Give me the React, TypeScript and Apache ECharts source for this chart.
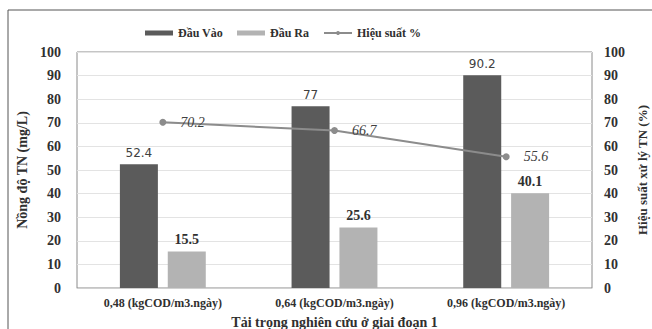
import React, { useEffect, useRef } from "react";
import * as echarts from "echarts";

const categories = [
  "0,48 (kgCOD/m3.ngày)",
  "0,64 (kgCOD/m3.ngày)",
  "0,96 (kgCOD/m3.ngày)",
];
const dauVao = [52.4, 77, 90.2];
const dauRa = [15.5, 25.6, 40.1];
const hieuSuat = [70.2, 66.7, 55.6];
const yTicks = { min: 0, max: 100, interval: 10 };

const SERIF = "Liberation Serif";

export default function App() {
  const ref = useRef<HTMLDivElement>(null);
  useEffect(() => {
    document.body.style.margin = "0";
    const chart = echarts.init(ref.current!, null, { renderer: "svg" });
    chart.setOption({
      animation: false,
      backgroundColor: "#ffffff",
      textStyle: { fontFamily: SERIF },
      graphic: [
        {
          type: "rect",
          shape: { x: 8, y: 10, width: 700, height: 400 },
          style: { fill: "none", stroke: "#555555", lineWidth: 1 },
          silent: true,
          z: -1,
        },
      ],
      legend: {
        top: 22,
        left: 140,
        itemGap: 14,
        itemWidth: 28,
        itemHeight: 5,
        textStyle: { fontFamily: SERIF, fontWeight: "bold", fontSize: 12, color: "#303030" },
        data: [
          { name: "Đầu Vào", icon: "rect" },
          { name: "Đầu Ra", icon: "rect" },
          { name: "Hiệu suất %" },
        ],
      },
      grid: {
        left: 77,
        right: 60,
        top: 52,
        bottom: 41,
        outerBoundsMode: "none",
        containLabel: false,
        show: true,
        borderColor: "#8a8a8a",
        borderWidth: 1,
      },
      xAxis: {
        type: "category",
        data: categories,
        axisTick: { show: false },
        axisLine: { show: true, lineStyle: { color: "#d0d0d0" } },
        axisLabel: {
          fontFamily: SERIF,
          fontWeight: "bold",
          fontSize: 12,
          color: "#303030",
          margin: 9,
        },
        name: "Tải trọng nghiên cứu ở giai đoạn 1",
        nameLocation: "middle",
        nameGap: 27,
        nameTextStyle: { fontFamily: SERIF, fontWeight: "bold", fontSize: 14, color: "#303030" },
      },
      yAxis: [
        {
          type: "value",
          min: yTicks.min,
          max: yTicks.max,
          interval: yTicks.interval,
          axisLine: { show: false },
          axisTick: { show: false },
          splitLine: { lineStyle: { color: "#e3e3e3" } },
          axisLabel: {
            fontFamily: SERIF,
            fontWeight: "bold",
            fontSize: 14,
            color: "#303030",
            margin: 16,
          },
          name: "Nồng độ TN (mg/L)",
          nameLocation: "middle",
          nameGap: 42,
          nameRotate: 90,
          nameTextStyle: { fontFamily: SERIF, fontWeight: "bold", fontSize: 14, color: "#303030" },
        },
        {
          type: "value",
          min: yTicks.min,
          max: yTicks.max,
          interval: yTicks.interval,
          axisLine: { show: false },
          axisTick: { show: false },
          splitLine: { show: false },
          axisLabel: {
            fontFamily: SERIF,
            fontWeight: "bold",
            fontSize: 14,
            color: "#303030",
            margin: 12,
          },
          name: "Hiệu suất xử lý TN (%)",
          nameLocation: "middle",
          nameGap: 38,
          nameRotate: 90,
          nameTextStyle: { fontFamily: SERIF, fontWeight: "bold", fontSize: 13, color: "#303030" },
        },
      ],
      series: [
        {
          name: "Đầu Vào",
          type: "bar",
          data: dauVao,
          barWidth: 38,
          barGap: "26%",
          itemStyle: { color: "#5b5b5b" },
          label: {
            show: true,
            position: "top",
            distance: 5,
            fontFamily: "DejaVu Sans",
            fontSize: 12,
            color: "#404040",
          },
        },
        {
          name: "Đầu Ra",
          type: "bar",
          data: dauRa,
          barWidth: 38,
          itemStyle: { color: "#b3b3b3" },
          label: {
            show: true,
            position: "top",
            distance: 5,
            fontFamily: SERIF,
            fontWeight: "bold",
            fontSize: 14,
            color: "#303030",
          },
        },
        {
          name: "Hiệu suất %",
          type: "line",
          yAxisIndex: 1,
          data: hieuSuat,
          symbol: "circle",
          symbolSize: 7,
          lineStyle: { color: "#8c8c8c", width: 2 },
          itemStyle: { color: "#8c8c8c" },
          label: {
            show: true,
            position: "right",
            distance: 14,
            fontFamily: SERIF,
            fontStyle: "italic",
            fontSize: 14,
            color: "#404040",
          },
          z: 5,
        },
      ],
    });
    return () => chart.dispose();
  }, []);
  return <div ref={ref} style={{ width: 652, height: 329 }} />;
}
